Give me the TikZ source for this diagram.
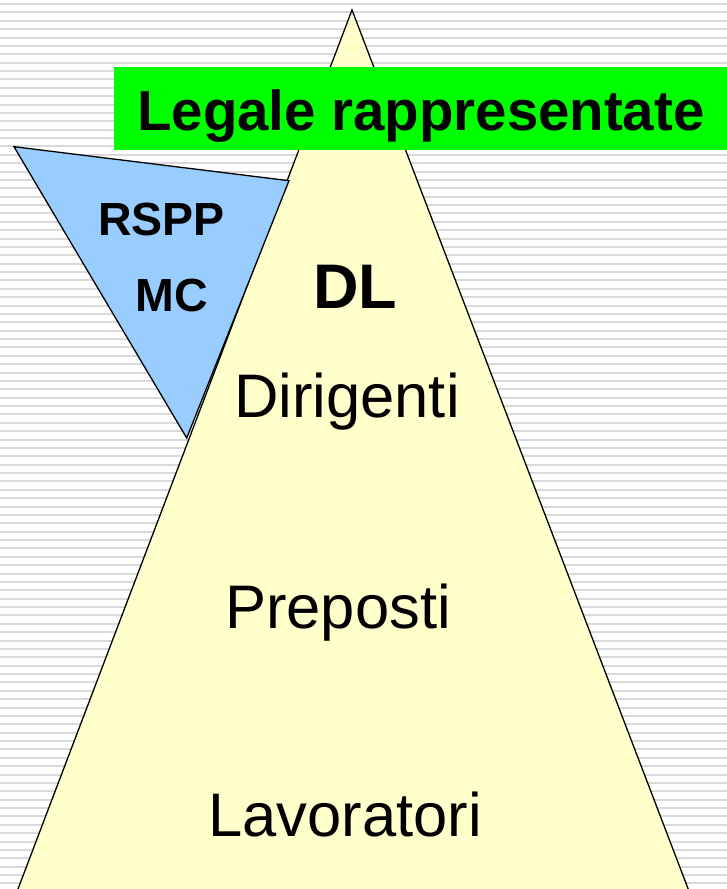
\documentclass[tikz,border=0pt]{standalone}
\usepackage{fontspec}
\setmainfont{Liberation Sans}
\definecolor{stripegray}{RGB}{217,217,217}
\definecolor{pyramidyellow}{RGB}{255,255,204}
\definecolor{staffblue}{RGB}{153,204,255}
\definecolor{legalgreen}{RGB}{0,255,0}
\tikzset{
  stripe/.style={draw=stripegray,line width=2pt},
  shapeline/.style={draw=black,line width=1.3pt,line join=miter},
  bigbold/.style={font=\fontsize{63pt}{63pt}\selectfont\bfseries,inner sep=0pt,anchor=base},
  midbold/.style={font=\fontsize{46.5pt}{46.5pt}\selectfont\bfseries,inner sep=0pt,anchor=base},
  levellabel/.style={font=\fontsize{61.5pt}{61.5pt}\selectfont,inner sep=0pt,anchor=base}
}
\begin{document}
\begin{tikzpicture}[x=1pt,y=-1pt]
        \useasboundingbox (0,0) rectangle (727,889);
        \clip (0,0) rectangle (727,889);
        %\draw (0,0) grid (727,889);
        \foreach \k in {0,...,105}
            \draw[stripe] (0,4+8.375*\k) -- (727,4+8.375*\k);
        % piramide
        \draw[shapeline,fill=pyramidyellow] (352,10) -- (13.8,900) -- (692.4,900) -- cycle;
        % triangolo RSPP / MC
        \draw[shapeline,fill=staffblue] (14,146.7) -- (289,180.7) -- (186.7,438) -- cycle;
        \fill[legalgreen] (114,66.7) rectangle (740,150);
        \node[font=\fontsize{56.4pt}{56.4pt}\selectfont\bfseries,inner sep=0pt,anchor=base west] (legale) at (137,130.7) {Legale rappresentate};
        \node[midbold] (rspp) at (161.7,235) {RSPP};
        \node[midbold] (mc) at (171.7,311.7) {MC};
        \node[bigbold] (dl) at (355,308.3) {DL};
        \node[levellabel] (dirigenti) at (347,417) {Dirigenti};
        \node[levellabel] (preposti) at (338,628.3) {Preposti};
        \node[levellabel] (lavoratori) at (345,836.7) {Lavoratori};
    \end{tikzpicture}
\end{document}
